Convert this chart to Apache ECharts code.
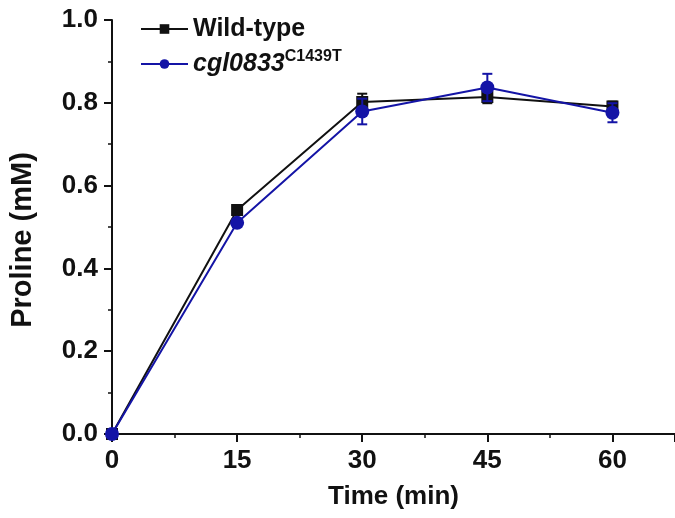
<!DOCTYPE html>
<html>
<head>
<meta charset="utf-8">
<script src="https://cdn.jsdelivr.net/npm/echarts@6/dist/echarts.min.js"></script>
<style>
  html, body { margin: 0; padding: 0; background: #fff; }
  #chart { width: 675px; height: 518px; }
</style>
</head>
<body>
<div id="chart"></div>
<script>
  // 数据
  var times = [0, 15, 30, 45, 60];
  var wildType = [0, 0.541, 0.802, 0.814, 0.791];
  var wildTypeErr = [0, 0.008, 0.02, 0.015, 0.012];
  var mutant = [0, 0.51, 0.779, 0.837, 0.776];
  var mutantErr = [0, 0.01, 0.031, 0.033, 0.023];
  var yTicks = [0, 0.2, 0.4, 0.6, 0.8, 1.0];

  var blue = '#1414a6';
  var ink = '#111';
  var font = 'Liberation Sans, Arial, sans-serif';

  function pairs(ys) {
    return times.map(function (t, i) { return [t, ys[i]]; });
  }
  function errData(ys, es) {
    return times.map(function (t, i) { return [t, ys[i] - es[i], ys[i] + es[i]]; });
  }
  // 误差棒
  function errRender(color) {
    return function (params, api) {
      var lo = api.coord([api.value(0), api.value(1)]);
      var hi = api.coord([api.value(0), api.value(2)]);
      var w = 5;
      var st = { stroke: color, lineWidth: 2 };
      return {
        type: 'group',
        children: [
          { type: 'line', shape: { x1: lo[0], y1: lo[1], x2: hi[0], y2: hi[1] }, style: st },
          { type: 'line', shape: { x1: lo[0] - w, y1: lo[1], x2: lo[0] + w, y2: lo[1] }, style: st },
          { type: 'line', shape: { x1: hi[0] - w, y1: hi[1], x2: hi[0] + w, y2: hi[1] }, style: st }
        ]
      };
    };
  }

  var chart = echarts.init(document.getElementById('chart'));
  var axisCommon = {
    axisLine: { lineStyle: { color: ink, width: 2 } },
    axisTick: { inside: false, length: 8, lineStyle: { color: ink, width: 2 } },
    minorTick: { show: true, splitNumber: 2, length: 4, lineStyle: { color: ink, width: 1.5 } },
    splitLine: { show: false },
    axisLabel: { color: ink, fontSize: 26, fontWeight: 'bold', fontFamily: font }
  };

  chart.setOption({
    animation: false,
    grid: { left: 112, right: 0, top: 20, bottom: 84, containLabel: false },
    legend: {
      left: 135, top: 9, orient: 'vertical', itemGap: 5,
      itemWidth: 47, itemHeight: 12,
      data: ['Wild-type', 'cgl0833'],
      textStyle: {
        fontSize: 25, fontWeight: 'bold', fontFamily: font, color: ink, lineHeight: 30,
        rich: {
          i: { fontSize: 25, fontWeight: 'bold', fontStyle: 'italic', fontFamily: font, color: ink, lineHeight: 30 },
          s: { fontSize: 16, fontWeight: 'bold', fontFamily: font, color: ink, lineHeight: 16, verticalAlign: 'top' }
        }
      },
      formatter: function (n) {
        return n === 'cgl0833' ? '{i|cgl0833}{s|C1439T}' : n;
      }
    },
    xAxis: Object.assign({}, axisCommon, {
      type: 'value', min: 0, max: 67.5, interval: 15,
      name: 'Time (min)', nameLocation: 'middle', nameGap: 50,
      nameTextStyle: { fontSize: 26, fontWeight: 'bold', fontFamily: font, color: ink },
      axisLabel: Object.assign({}, axisCommon.axisLabel, { margin: 14, showMaxLabel: false })
    }),
    yAxis: Object.assign({}, axisCommon, {
      type: 'value', min: yTicks[0], max: yTicks[yTicks.length - 1], interval: 0.2,
      name: 'Proline (mM)', nameLocation: 'middle', nameGap: 75,
      nameTextStyle: { fontSize: 29, fontWeight: 'bold', fontFamily: font, color: ink, padding: [0, 26, 0, 0] },
      axisLabel: Object.assign({}, axisCommon.axisLabel, {
        margin: 14,
        formatter: function (v) { return v.toFixed(1); }
      })
    }),
    series: [
      {
        name: 'Wild-type', type: 'line', data: pairs(wildType),
        symbol: 'rect', symbolSize: 12, z: 3,
        lineStyle: { color: ink, width: 2 }, itemStyle: { color: ink }
      },
      {
        type: 'custom', data: errData(wildType, wildTypeErr), z: 3,
        renderItem: errRender(ink), silent: true
      },
      {
        name: 'cgl0833', type: 'line', data: pairs(mutant),
        symbol: 'circle', symbolSize: 14, z: 4,
        lineStyle: { color: blue, width: 2 }, itemStyle: { color: blue }
      },
      {
        type: 'custom', data: errData(mutant, mutantErr), z: 4,
        renderItem: errRender(blue), silent: true
      }
    ]
  });
</script>
</body>
</html>
